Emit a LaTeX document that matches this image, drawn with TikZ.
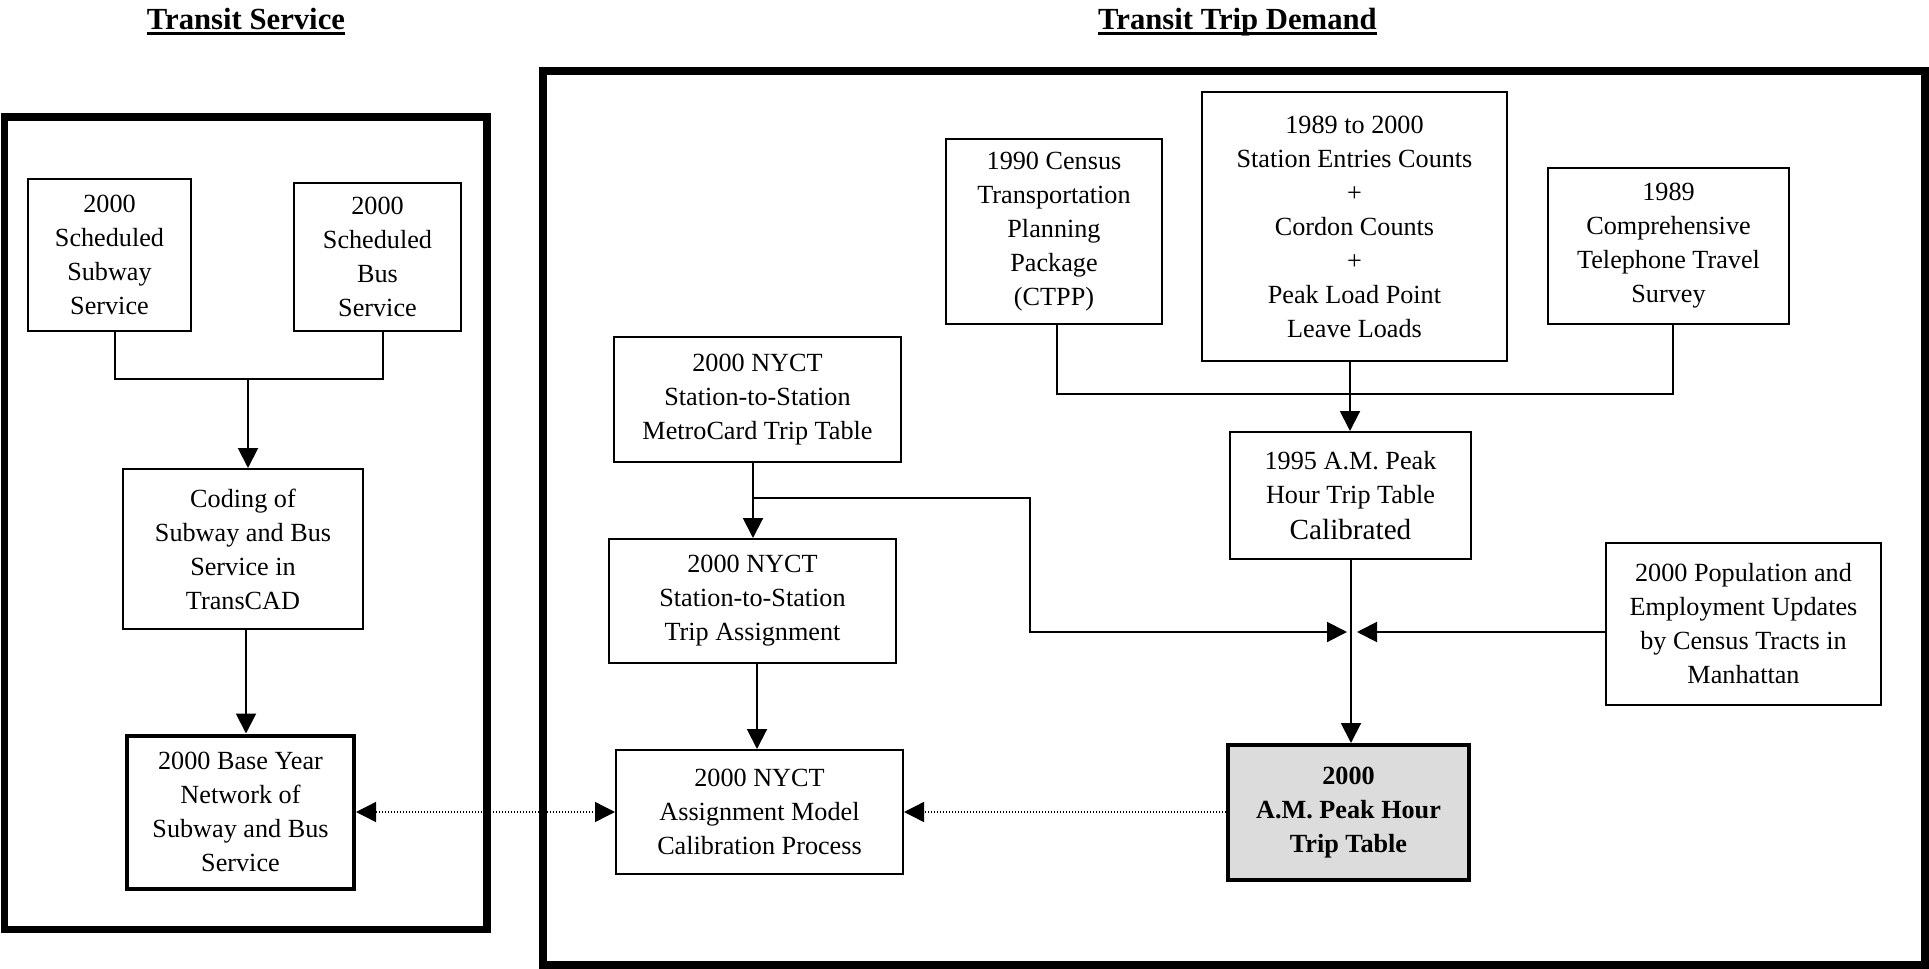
\documentclass[tikz,border=0pt]{standalone}
\usepackage{fontspec}
\setmainfont{Liberation Serif}
\usetikzlibrary{arrows.meta}
\definecolor{tablegray}{HTML}{DCDCDC}
\newcommand{\boxfont}{\fontsize{13.1pt}{17pt}\selectfont}
\newcommand{\headfont}{\fontsize{15.35pt}{18pt}\selectfont\bfseries}
\newcommand{\calfont}{\fontsize{14.6pt}{18pt}\selectfont}
\begin{document}
\begin{tikzpicture}[x=0.5pt,y=-0.5pt,
  box/.style={draw,line width=1pt,inner sep=0pt,align=center,font=\boxfont},
  keybox/.style={box,line width=2pt},
  frame/.style={draw,line width=#1},
  head/.style={inner sep=0pt,font=\headfont,anchor=base},
  link/.style={draw,line width=1pt},
  arr/.style={link,-{Triangle[length=10pt,width=10pt]}},
  dotarr/.style={draw,line width=0.7pt,dash pattern=on 0.75pt off 0.75pt,
    -{Triangle[length=10pt,width=10pt]}}
]
\useasboundingbox (0,0) rectangle (1929,969);

% section headings
\node[head] (ts) at (246,29) {Transit Service};
\node[head] (td) at (1237.5,29) {Transit Trip Demand};
\draw[line width=1.6pt] ([yshift=-2.2pt]ts.base west) -- ([yshift=-2.2pt]ts.base east);
\draw[line width=1.6pt] ([yshift=-2.2pt]td.base west) -- ([yshift=-2.2pt]td.base east);

% outer frames
\draw[frame=3.75pt] (4.5,117) rectangle (487,929.5);
\draw[frame=4pt] (543,71) rectangle (1925,965);

% transit service side
\node[box,minimum width=81.5pt,minimum height=76pt] (sub) at (109.5,255)
  {2000\\Scheduled\\Subway\\Service};
\node[box,minimum width=83.5pt,minimum height=74pt] (bus) at (377.5,257)
  {2000\\Scheduled\\Bus\\Service};
\node[box,minimum width=120pt,minimum height=80pt] (coding) at (243,549)
  {Coding of\\Subway and Bus\\Service in\\TransCAD};
\node[keybox,minimum width=113.5pt,minimum height=76.5pt] (base) at (240.5,812)
  {2000 Base Year\\Network of\\Subway and Bus\\Service};

% transit trip demand side
\node[box,minimum width=143.5pt,minimum height=62.5pt] (metro) at (757.5,399.5)
  {2000 NYCT\\Station-to-Station\\MetroCard Trip Table};
\node[box,minimum width=143.5pt,minimum height=62pt] (assign) at (752.5,601)
  {2000 NYCT\\Station-to-Station\\Trip Assignment};
\node[box,minimum width=143.5pt,minimum height=62pt] (model) at (759.5,812)
  {2000 NYCT\\Assignment Model\\Calibration Process};
\node[box,minimum width=108pt,minimum height=92.5pt] (ctpp) at (1054,231.5)
  {1990 Census\\Transportation\\Planning\\Package\\(CTPP)};
\node[box,minimum width=152.5pt,minimum height=134.5pt] (entries) at (1354.5,226.5)
  {1989 to 2000\\Station Entries Counts\\+\\Cordon Counts\\+\\Peak Load Point\\Leave Loads};
\node[box,minimum width=120.5pt,minimum height=78pt] (phone) at (1668.5,246)
  {1989\\Comprehensive\\Telephone Travel\\Survey};
\node[box,minimum width=120.5pt,minimum height=63.5pt] (cal) at (1350.5,495.5)
  {1995 A.M. Peak\\Hour Trip Table\\[1pt]{\calfont Calibrated}};
\node[box,minimum width=137.5pt,minimum height=81pt] (pop) at (1743.5,624)
  {2000 Population and\\Employment Updates\\by Census Tracts in\\Manhattan};
\node[keybox,fill=tablegray,minimum width=120.5pt,minimum height=67.5pt,
  font=\boxfont\bfseries] (trip) at (1348.5,812.5)
  {2000\\A.M. Peak Hour\\Trip Table};

% routing points
\coordinate (sa) at (115,379);
\coordinate (sb) at (383,379);
\coordinate (sj) at (248,379);
\coordinate (cx) at (246,0);
\coordinate (ma) at (753,498);
\coordinate (mb) at (1030,498);
\coordinate (mc) at (1030,632);
\coordinate (ax) at (757,0);
\coordinate (ca) at (1057,394);
\coordinate (cb) at (1673,394);
\coordinate (ex) at (1350,0);
\coordinate (vx) at (1351,0);
\coordinate (tipl) at (1347,632);
\coordinate (tipr) at (1357,632);

% transit service connectors
\draw[link] (sub.south -| sa) -- (sa) -- (sb) -- (bus.south -| sb);
\draw[arr] (sj) -- (coding.north -| sj);
\draw[arr] (coding.south -| cx) -- (base.north -| cx);
\draw[dotarr,{Triangle[length=10pt,width=10pt]}-{Triangle[length=10pt,width=10pt]}]
  (base.east) -- (model.west);

% trip demand connectors
\draw[arr] (metro.south -| ma) -- (assign.north -| ma);
\draw[arr] (ma) -- (mb) -- (mc) -- (tipl);
\draw[arr] (assign.south -| ax) -- (model.north -| ax);
\draw[link] (ctpp.south -| ca) -- (ca) -- (cb) -- (phone.south -| cb);
\draw[arr] (entries.south -| ex) -- (cal.north -| ex);
\draw[arr] (cal.south -| vx) -- (trip.north -| vx);
\draw[arr] (pop.west |- tipr) -- (tipr);
\draw[dotarr] (trip.west |- model.east) -- (model.east);
\end{tikzpicture}
\end{document}
